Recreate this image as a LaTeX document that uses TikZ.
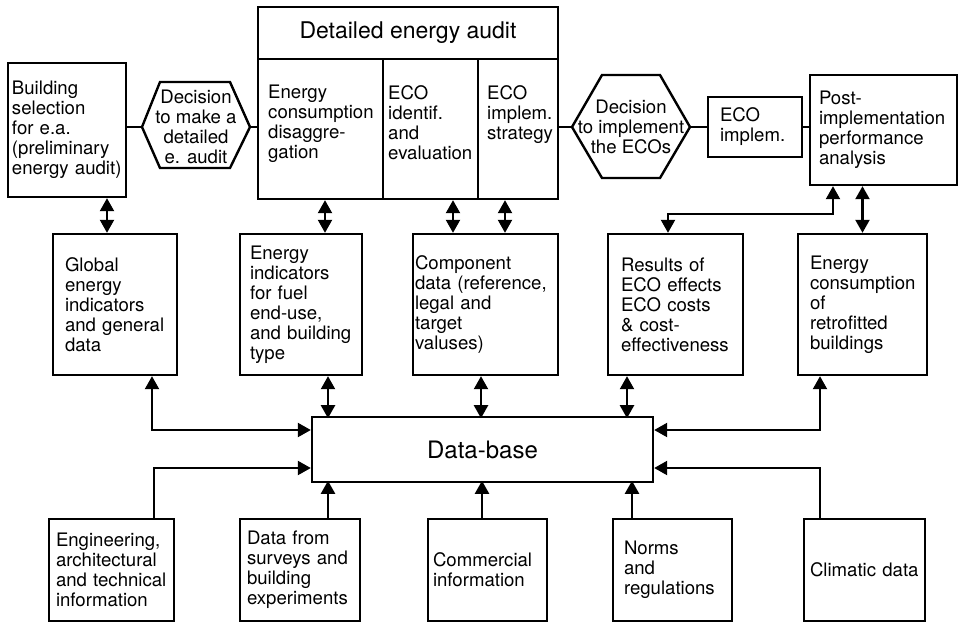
\documentclass[tikz,border=0pt]{standalone}
\usepackage{fontspec}
\setmainfont{TeX Gyre Heros}
\usetikzlibrary{arrows.meta}
\newcommand\bodyfont{\fontsize{18.6}{20}\selectfont}

\begin{document}
\begin{tikzpicture}[x=1pt,y=-1pt,
  bx/.style={draw, line width=2.4pt, align=left, inner ysep=0pt, font=\bodyfont},
  cell/.style={draw, line width=2.4pt, inner sep=0pt},
  lbl/.style={align=left, inner sep=0pt, font=\bodyfont},
  hexlbl/.style={align=center, inner sep=0pt, font=\bodyfont},
  lnk/.style={line width=2.2pt},
  hexline/.style={line width=2.4pt, line join=miter},
  one/.style={lnk, -{Triangle[length=13pt,width=14pt]}},
  two/.style={lnk, {Triangle[length=13pt,width=14pt]}-{Triangle[length=13pt,width=14pt]}},
]
\fill[white] (0,0) rectangle (959,622);

% ---------- top row: audit procedure ----------
\node[bx, text width=110pt, inner xsep=4pt, minimum height=134pt] (bsel) at (67,130)
  {Building\\selection\\for e.a.\\(preliminary\\energy audit)};

% first decision hexagon
\coordinate (hAw) at (142,127);
\coordinate (hAe) at (250,127);
\draw[hexline] (hAw) -- (160,82) -- (230,82) -- (hAe) -- (230,168) -- (160,168) -- cycle;
\node[hexlbl] (hexA) at (196,127) {Decision\\to make a\\detailed\\e. audit};

% detailed audit block
\node[cell, minimum width=300pt, minimum height=52pt, font=\fontsize{23}{26}\selectfont]
  (title) at (408,33) {Detailed energy audit};
\node[cell, minimum width=125pt, minimum height=140pt] (col1) at (320.5,129) {};
\node[cell, minimum width=95pt, minimum height=140pt] (col2) at (430.5,129) {};
\node[cell, minimum width=80pt, minimum height=140pt] (col3) at (518,129) {};
\node[lbl, anchor=north west] (col1t) at (268,85) {Energy\\consumption\\disaggre-\\gation};
\node[lbl, anchor=north west] (col2t) at (388,85) {ECO\\identif.\\and\\evaluation};
\node[lbl, anchor=north west] (col3t) at (487,85) {ECO\\implem.\\strategy};

% second decision hexagon
\coordinate (hBw) at (572,127);
\coordinate (hBe) at (690,127);
\draw[hexline] (hBw) -- (602,75) -- (660,75) -- (hBe) -- (660,178) -- (602,178) -- cycle;
\node[hexlbl] (hexB) at (631,127) {Decision\\to implement\\the ECOs};

\node[bx, text width=70pt, inner xsep=12pt, minimum height=60pt] (ecoi) at (755,127)
  {ECO\\implem.};
\node[bx, text width=129pt, inner xsep=9pt, minimum height=110pt] (post) at (883.5,130)
  {Post-\\implementation\\performance\\analysis};

% ---------- middle row: data sets ----------
\node[bx, text width=100pt, inner xsep=12pt, minimum height=141pt] (glob) at (115,304.5)
  {Global\\energy\\indicators\\and general\\data};
\node[bx, text width=102pt, inner xsep=10pt, minimum height=141pt] (eind) at (301,304.5)
  {Energy\\indicators\\for fuel\\end-use,\\and building\\type};
\node[bx, text width=141pt, inner xsep=2pt, minimum height=141pt] (comp) at (485.5,304.5)
  {Component\\data (reference,\\legal and\\target\\valuses)};
\node[bx, text width=109pt, inner xsep=13pt, minimum height=141pt] (res) at (675.5,304.5)
  {Results of\\ECO effects\\ECO costs\\\& cost-\\effectiveness};
\node[bx, text width=105pt, inner xsep=12pt, minimum height=141pt] (retro) at (862.5,304.5)
  {Energy\\consumption\\of\\retrofitted\\buildings};

% ---------- central data-base ----------
\node[cell, minimum width=341pt, minimum height=65pt, font=\fontsize{24}{28}\selectfont]
  (db) at (482.5,449.5) {Data-base\hspace{27pt}};

% ---------- bottom row: sources ----------
\node[bx, text width=111pt, inner xsep=7pt, minimum height=102pt] (eng) at (111.5,570)
  {Engineering,\\architectural\\and technical\\information};
\node[bx, text width=106pt, inner xsep=7pt, minimum height=102pt] (surv) at (300,570)
  {Data from\\surveys and\\building\\experiments};
\node[bx, text width=109pt, inner xsep=5pt, minimum height=102pt] (comm) at (487.5,570)
  {Commercial\\information};
\node[bx, text width=97pt, inner xsep=11pt, minimum height=102pt] (norm) at (672.5,570)
  {Norms\\and\\regulations};
\node[bx, text width=109pt, inner xsep=6pt, minimum height=102pt] (clim) at (864.5,570)
  {Climatic data};

% ---------- sequence links ----------
\draw[lnk] (bsel.east |- hAw) -- (hAw);
\draw[lnk] (hAe) -- (hAe -| col1.west);
\draw[lnk] (col3.east |- hBw) -- (hBw);
\draw[lnk] (hBe) -- (hBe -| ecoi.west);
\draw[lnk] (ecoi.east) -- (ecoi.east -| post.west);

% ---------- procedure <-> data sets ----------
\draw[two] ([xshift=40pt]bsel.south) -- ([xshift=-8pt]glob.north);
\draw[two] ([xshift=4.5pt]col1.south) -- ([xshift=24pt]eind.north);
\draw[two] ([xshift=22.5pt]col2.south) -- ([xshift=-32.5pt]comp.north);
\draw[two] ([xshift=-13pt]col3.south) -- ([xshift=19.5pt]comp.north);
\draw[two] ([xshift=-50.5pt]post.south) -- ++(0,28) -| ([xshift=-7.5pt]res.north);
\draw[two] (retro.north |- post.south) -- (retro.north);

% ---------- data sets <-> data-base ----------
\draw[two] ([xshift=37pt]glob.south) |- ([yshift=19.5pt]db.west);
\draw[two] ([xshift=27pt]eind.south) -- ++(0,42);
\draw[two] ([xshift=-4.5pt]comp.south) -- ++(0,42);
\draw[two] ([xshift=-48.5pt]res.south) -- ++(0,42);
\draw[two] ([xshift=-42.5pt]retro.south) |- ([yshift=19.5pt]db.east);

% ---------- sources -> data-base ----------
\draw[one] ([xshift=42.5pt]eng.north) |- ([yshift=-18.5pt]db.west);
\draw[one] ([xshift=28pt]surv.north) -- ++(0,-37);
\draw[one] ([xshift=-5.5pt]comm.north) -- ++(0,-37);
\draw[one] ([xshift=-40.5pt]norm.north) -- ++(0,-37);
\draw[one] ([xshift=-44.5pt]clim.north) |- ([yshift=-18.5pt]db.east);
\end{tikzpicture}
\end{document}
